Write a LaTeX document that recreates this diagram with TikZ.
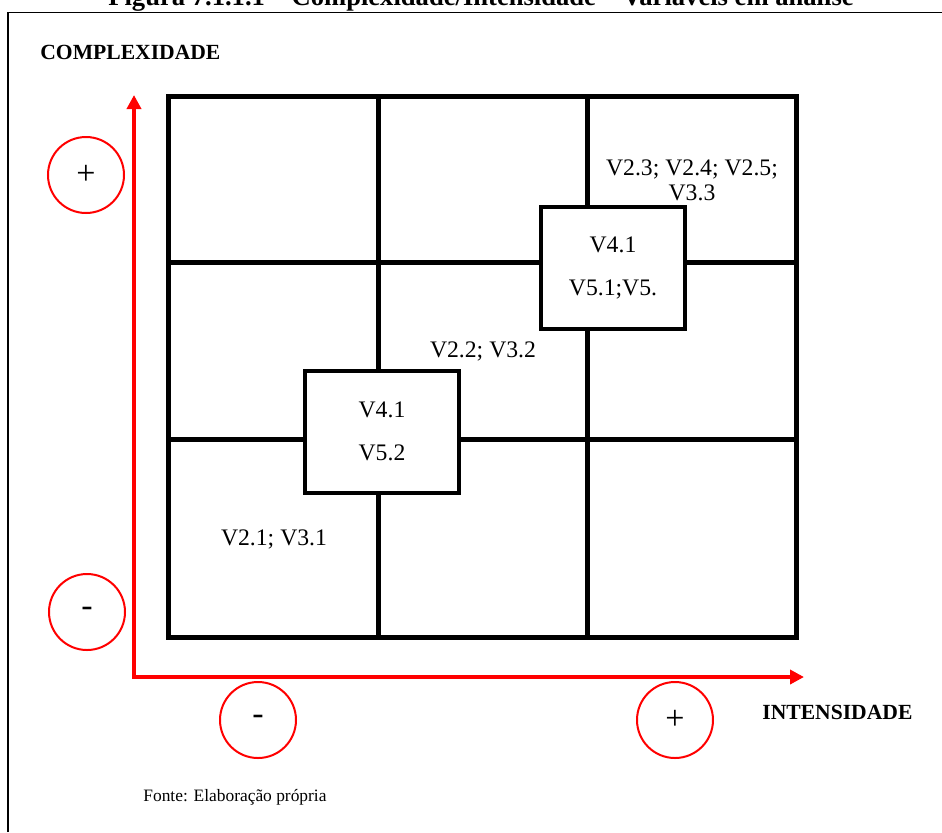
\documentclass[tikz,border=0pt]{standalone}
\usepackage{fontspec}
\setmainfont{Liberation Serif}
\usetikzlibrary{arrows.meta,positioning}

\begin{document}
\begin{tikzpicture}[
  x=0.5pt, y=-0.5pt,
  frame/.style={line width=0.75pt},
  cell/.style={line width=2.5pt},
  axis/.style={{Triangle[length=7pt,width=7pt]}-{Triangle[length=7pt,width=7pt]},
    draw=red, line width=2pt},
  sign/.style={circle, draw=red, line width=1pt, minimum size=38pt,
    inner sep=0pt, font=\fontsize{17}{20}\selectfont},
  heading/.style={inner sep=0pt, font=\fontsize{10.8}{13}\selectfont\bfseries},
  group/.style={inner sep=0pt, align=center, font=\fontsize{11.85}{12.5}\selectfont},
  varbox/.style={draw, fill=white, line width=2pt, align=center, inner sep=0pt,
    minimum height=61pt, font=\fontsize{11.85}{21.5}\selectfont}
]
\useasboundingbox (0,0) rectangle (942,832);

% title, cut at the top of the page
\node[anchor=base, inner sep=0pt, font=\fontsize{13.3}{16}\selectfont\bfseries] (title) at (481,5)
  {Figura 7.1.1.1 -- Complexidade/Intensidade -- Variáveis em análise};
\draw[frame] (8,832) -- (8,12.5) -- (942,12.5);

% grid
\draw[cell] (168,96) rectangle (796,637);
\foreach \x in {378,587} \draw[cell] (\x,96) -- (\x,637);
\foreach \y in {262,439} \draw[cell] (168,\y) -- (796,\y);

% axes
\coordinate (origin) at (134,677);
\coordinate (ytip) at (134,95);
\coordinate (xtip) at (804,677);
\draw[axis] (ytip) -- (origin) -- (xtip);

\node[heading, anchor=west] (complexidade) at (40,52) {COMPLEXIDADE};
\node[heading, anchor=west] (intensidade) at (762,712) {INTENSIDADE};

\node[sign] (yplus) at (86,175) {+};
\node[sign] (yminus) at (87,612) {-};
\node[sign] (xminus) at (258,720) {-};
\node[sign] (xplus) at (675,720) {+};

% variables
\node[group] (high) at (692,180) {V2.3; V2.4; V2.5;\\V3.3};
\node[group] (mid) at (483,351) {V2.2; V3.2};
\node[group] (low) at (274,539) {V2.1; V3.1};
\node[varbox, minimum width=72pt] (boxhigh) at (613,268) {V4.1\\V5.1;V5.};
\node[varbox, minimum width=77pt] (boxlow) at (382,431.5) {V4.1\\V5.2};

\node[anchor=west, inner sep=0pt, font=\fontsize{8.7}{10.5}\selectfont] (fonte) at (143,797)
  {Fonte: Elaboração própria};
\end{tikzpicture}
\end{document}
